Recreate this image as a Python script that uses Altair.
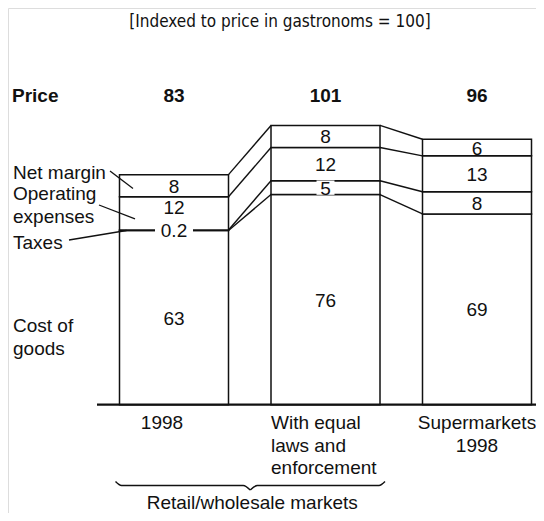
import altair as alt
import pandas as pd

# ---------------- data ----------------
bar_names = ["1998", "With equal laws and enforcement", "Supermarkets 1998"]
bar_label_lines = [["1998"], ["With equal", "laws and", "enforcement"], ["Supermarkets", "1998"]]
segments = ["Cost of goods", "Taxes", "Operating expenses", "Net margin"]
cost = [63, 76, 69]
taxes = [0.2, 5, 8]
opex = [12, 12, 13]
margin = [8, 8, 6]
price = [83, 101, 96]
segment_texts = [["63", "0.2", "12", "8"], ["76", "5", "12", "8"], ["69", "8", "13", "6"]]
left_label_lines = [["Net margin"], ["Operating", "expenses"], ["Taxes"], ["Cost of", "goods"]]
title_text = "[Indexed to price in gastronoms = 100]"
group_text = "Retail/wholesale markets"

# ---------------- layout helpers ----------------
W, H = 528, 505
X0, DX = 166.0, 151.5      # plot px of first bar centre, spacing between bars
Y0, KY = 396.7, 2.765      # plot px of value 0, px per unit
HW = 54.5 / DX             # bar half width in x units


def ux(page_x):
    return (page_x - 8 - X0) / DX


def uy(page_y):
    return (Y0 - (page_y - 8)) / KY


XS = alt.Scale(domain=[ux(8), ux(8 + W)], nice=False, zero=False)
YS = alt.Scale(domain=[uy(8 + H), uy(8)], nice=False, zero=False)
INK = "#111111"
FONT = "Liberation Sans, Arial, Helvetica, sans-serif"


def enc(**kw):
    out = {}
    for k, v in kw.items():
        if k == "x":
            out[k] = alt.X(v, type="quantitative", scale=XS, axis=None)
        elif k == "y":
            out[k] = alt.Y(v, type="quantitative", scale=YS, axis=None)
        elif k in ("x2", "y2"):
            out[k] = alt.X2(v) if k == "x2" else alt.Y2(v)
        else:
            out[k] = v
    return out


# cumulative boundaries
cums = []
for i in range(3):
    c = [0]
    for v in (cost[i], taxes[i], opex[i], margin[i]):
        c.append(c[-1] + v)
    cums.append(c)

# ---------------- bars ----------------
rect_rows = []
for i in range(3):
    for k in range(4):
        rect_rows.append(dict(x=i - HW, x2=i + HW, y=cums[i][k], y2=cums[i][k + 1]))
bars = alt.Chart(pd.DataFrame(rect_rows)).mark_rect(
    fill="white", stroke=INK, strokeWidth=1.5
).encode(**enc(x="x", x2="x2", y="y", y2="y2"))

# ---------------- connectors ----------------
conn_rows = []
for i in range(2):
    for k in range(1, 5):
        conn_rows.append(dict(x=i + HW, x2=i + 1 - HW, y=cums[i][k], y2=cums[i + 1][k]))
connectors = alt.Chart(pd.DataFrame(conn_rows)).mark_rule(
    stroke=INK, strokeWidth=1.4
).encode(**enc(x="x", x2="x2", y="y", y2="y2"))

# ---------------- baseline ----------------
base = alt.Chart(pd.DataFrame([dict(x=ux(97), x2=ux(8 + W), y=0)])).mark_rule(
    stroke=INK, strokeWidth=2.2
).encode(**enc(x="x", x2="x2", y="y"))

# ---------------- segment labels ----------------
lab_rows, bg_rows = [], []
for i in range(3):
    thin_tax = taxes[i] < 1
    for k in range(4):
        t = segment_texts[i][k]
        ym = (cums[i][k] + cums[i][k + 1]) / 2
        if k == 2 and thin_tax:
            ym += 6 / KY          # lift label clear of the tax label below
        lab_rows.append(dict(x=i, y=ym, t=t))
        if k == 1 and taxes[i] <= 5:
            hw = (4 + 5 * len(t)) / DX
            bg_rows.append(dict(x=i - hw, x2=i + hw, y=ym - 2.6, y2=ym + 2.6))
bg = alt.Chart(pd.DataFrame(bg_rows)).mark_rect(fill="white").encode(
    **enc(x="x", x2="x2", y="y", y2="y2"))
seg_labels = alt.Chart(pd.DataFrame(lab_rows)).mark_text(
    font=FONT, fontSize=19, color=INK, align="center", baseline="middle", dy=1
).encode(**enc(x="x", y="y", text="t"))

# ---------------- left labels + leaders ----------------
left_baselines = [179.3, 200.0, 249.3, 331.7]
LINE = 23.0
ll_rows = []
for lines, b in zip(left_label_lines, left_baselines):
    for j, s in enumerate(lines):
        ll_rows.append(dict(x=ux(13), y=uy(b + j * LINE), t=s))
left_labels = alt.Chart(pd.DataFrame(ll_rows)).mark_text(
    font=FONT, fontSize=19, color=INK, align="left", baseline="alphabetic"
).encode(**enc(x="x", y="y", text="t"))

leader_rows = [
    dict(x=ux(110), y=uy(171), x2=-HW + 13.5 / DX, y2=(cums[0][3] + cums[0][4]) / 2 - 1),
    dict(x=ux(99), y=uy(205), x2=-HW + 15.5 / DX, y2=(cums[0][2] + cums[0][3]) / 2 - 2),
    dict(x=ux(69), y=uy(240), x2=-HW + 7 / DX, y2=cums[0][1]),
]
leaders = alt.Chart(pd.DataFrame(leader_rows)).mark_rule(
    stroke=INK, strokeWidth=1.3
).encode(**enc(x="x", x2="x2", y="y", y2="y2"))

# ---------------- price row ----------------
PRICE_Y = uy(102)
price_rows = [dict(x=i, y=PRICE_Y, t=str(p)) for i, p in enumerate(price)]
price_vals = alt.Chart(pd.DataFrame(price_rows)).mark_text(
    font=FONT, fontSize=19, fontWeight="bold", color=INK, align="center", baseline="alphabetic"
).encode(**enc(x="x", y="y", text="t"))
price_head = alt.Chart(pd.DataFrame([dict(x=ux(12), y=PRICE_Y, t="Price")])).mark_text(
    font=FONT, fontSize=19, fontWeight="bold", color=INK, align="left", baseline="alphabetic"
).encode(**enc(x="x", y="y", text="t"))

# ---------------- category labels ----------------
CAT_B, CAT_LINE = 429.0, 22.7
c_rows, l_rows = [], []
for i, lines in enumerate(bar_label_lines):
    for j, s in enumerate(lines):
        yy = uy(CAT_B + j * CAT_LINE)
        if i == 1:
            l_rows.append(dict(x=i - HW, y=yy, t=s))
        elif i == 0:
            c_rows.append(dict(x=i - 12 / DX, y=yy, t=s))
        else:
            c_rows.append(dict(x=i, y=yy, t=s))
cat_c = alt.Chart(pd.DataFrame(c_rows)).mark_text(
    font=FONT, fontSize=19, color=INK, align="center", baseline="alphabetic"
).encode(**enc(x="x", y="y", text="t"))
cat_l = alt.Chart(pd.DataFrame(l_rows)).mark_text(
    font=FONT, fontSize=19, color=INK, align="left", baseline="alphabetic"
).encode(**enc(x="x", y="y", text="t"))

# ---------------- brace + group label ----------------
bx0, bx1 = -HW - 4 / DX, 1 + HW + 5 / DX
bxc = (bx0 + bx1) / 2
ytop, ymid, ytip = uy(481.5), uy(485.5), uy(490)
brace_rows = [
    dict(x=bx0, y=ytop, s="a", o=0), dict(x=bx0 + 6 / DX, y=ymid, s="a", o=1),
    dict(x=bxc - 7 / DX, y=ymid, s="a", o=2), dict(x=bxc, y=ytip, s="a", o=3),
    dict(x=bxc, y=ytip, s="b", o=0), dict(x=bxc + 7 / DX, y=ymid, s="b", o=1),
    dict(x=bx1 - 6 / DX, y=ymid, s="b", o=2), dict(x=bx1, y=ytop, s="b", o=3),
]
brace = alt.Chart(pd.DataFrame(brace_rows)).mark_line(
    stroke=INK, strokeWidth=1.5, interpolate="monotone"
).encode(**enc(x="x", y="y", detail="s:N", order="o:Q"))
group_lab = alt.Chart(pd.DataFrame([dict(x=bxc + 2 / DX, y=uy(508.5), t=group_text)])).mark_text(
    font=FONT, fontSize=19, color=INK, align="center", baseline="alphabetic"
).encode(**enc(x="x", y="y", text="t"))

# ---------------- title ----------------
title = alt.Chart(pd.DataFrame([dict(x=ux(280), y=uy(26.5), t=title_text)])).mark_text(
    font="Liberation Sans Narrow, DejaVu Sans Condensed, sans-serif", fontSize=17,
    color=INK, align="center", baseline="alphabetic"
).encode(**enc(x="x", y="y", text="t"))

chart = alt.layer(
    bars, connectors, base, leaders, bg, seg_labels, left_labels,
    price_head, price_vals, cat_c, cat_l, brace, group_lab, title
).properties(
    width=W, height=H, padding=0, autosize=alt.AutoSizeParams(type="none")
).configure_view(stroke=None).configure(background="white")

chart.save("out.html", embed_options={"renderer": "svg", "actions": False})
